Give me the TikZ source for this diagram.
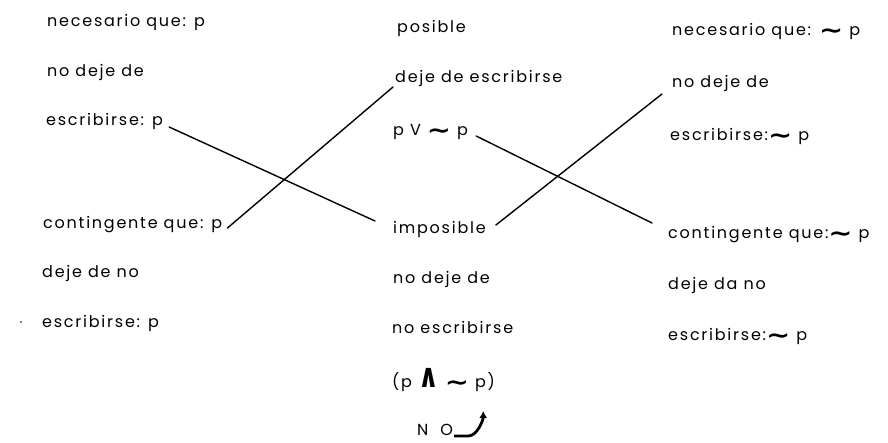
\documentclass[tikz,border=0pt]{standalone}
\usepackage{amsmath}
\usepackage{graphicx}
\usepackage{fontspec}
\setmainfont[LetterSpace=11]{Poppins}
\newfontfamily\symf{DejaVu Sans}
\usetikzlibrary{arrows.meta,calc}

\newcommand{\wavy}{{\symf\bfseries\fontsize{17}{17}\selectfont\raisebox{-3pt}{\scalebox{1.7}[1.4]{∼}}}}
\newcommand{\yy}{{\symf\bfseries\fontsize{15}{15}\selectfont\scalebox{1.7}[2.2]{∧}}}

\begin{document}
\begin{tikzpicture}[
  x=1pt,
  y=1pt,
  >=Latex,
  txt/.style={anchor=base west, inner sep=0pt, font=\fontsize{16}{18}\selectfont},
  link/.style={line width=1.4pt, line cap=round}
]
\useasboundingbox (0,0) rectangle (888,-442);

% Left column: necesario / contingente que p.
\node[txt] (necL) at (47,-26)  {necesario que: p};
\node[txt] (nodL) at (47,-76)  {no deje de};
\node[txt] (escL) at (46,-125) {escribirse: p};
\node[txt] (conL) at (43,-228) {contingente que: p};
\node[txt] (dejL) at (42,-277) {deje de no};
\node[txt] (esbL) at (42,-327) {escribirse: p};
\fill (21,-322) circle (0.8);

% Middle column: posible / imposible.
\node[txt] (posM)  at (397,-32)  {posible};
\node[txt] (dejM)  at (395,-82)  {deje de escribirse};
\node[txt] (pvpM)  at (393,-135) {p V \wavy\ p};
\node[txt] (impM)  at (393,-233) {imposible};
\node[txt] (nodM)  at (393,-283) {no deje de};
\node[txt] (noeM)  at (392,-333) {no escribirse};
\node[txt] (conjM) at (392,-387) {(p \yy\ \wavy\ p)};
\node[txt] (noM)   at (417,-435) {N\hspace{12pt}O};

% Right column: the same modes for not-p.
\node[txt] (necR) at (672,-35)  {necesario que: \wavy\ p};
\node[txt] (nodR) at (672,-87)  {no deje de};
\node[txt] (escR) at (670,-140) {escribirse:\wavy\ p};
\node[txt] (conR) at (668,-238) {contingente que:\wavy\ p};
\node[txt] (dejR) at (668,-289) {deje da no};
\node[txt] (esbR) at (668,-340) {escribirse:\wavy\ p};

% Crossed links between the columns.
\draw[link] ($(escL.base east)+(6,-2)$) -- ($(impM.base west)+(-18,12)$);
\draw[link] ($(conL.base east)+(5,0)$)  -- ($(dejM.base west)+(-2,-5)$);
\draw[link] ($(pvpM.base east)+(8,-1)$) -- ($(conR.base west)+(-16,15)$);
\draw[link] ($(impM.base east)+(10,8)$) -- ($(nodR.base west)+(-10,-7)$);

% Hooked arrow after NO.
\draw[line width=2.8pt, -{Latex[length=7pt,width=8pt]}]
  ($(noM.base east)+(1,-1)$) -- ++(14,0) .. controls +(9,0) and +(0,-9) .. ++(15,25);
\end{tikzpicture}
\end{document}
